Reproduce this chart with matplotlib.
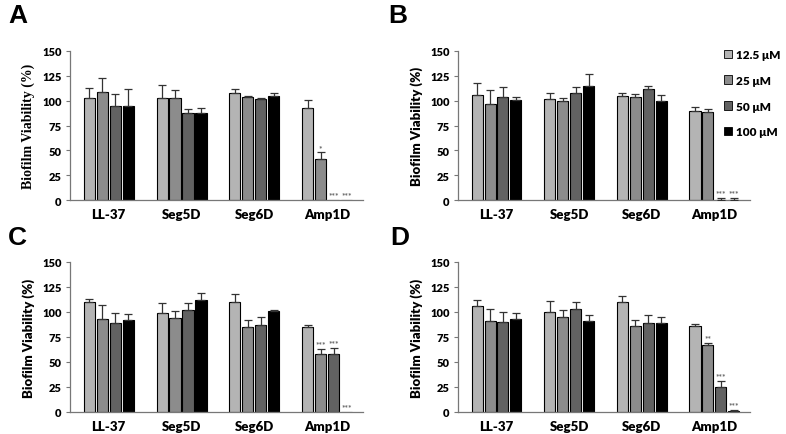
import numpy as np
import matplotlib
matplotlib.use("Agg")
import matplotlib.pyplot as plt
from matplotlib.patches import Patch

plt.rcParams['font.family'] = ['Lato', 'DejaVu Sans']

groups = ['LL-37', 'Seg5D', 'Seg6D', 'Amp1D']
doses = ['12.5 μM', '25 μM', '50 μM', '100 μM']
colors = ['#b4b4b4', '#8c8c8c', '#626262', '#000000']

# mean viability per panel, rows = dose, cols = peptide
means_A = [[103, 103, 107.5, 93],
           [109, 103, 103.5, 41.5],
           [94.5, 88, 102, 0],
           [95, 88, 104.5, 0]]
errs_A = [[10, 12.5, 4, 8],
          [14, 7.5, 1.7, 6.5],
          [12, 4, 1, 0],
          [16.5, 4.5, 3, 0]]
stars_A = [['', '', '', ''],
           ['', '', '', '*'],
           ['', '', '', '***'],
           ['', '', '', '***']]

means_B = [[106, 102, 105, 89.5],
           [96.5, 99.5, 103.5, 88.5],
           [103.5, 107.5, 112, 0],
           [100.5, 115, 99.5, 0]]
errs_B = [[11.5, 5.5, 3, 4],
          [14, 3.5, 3.5, 3.5],
          [10, 6, 3, 2.5],
          [3, 12, 6, 2.5]]
stars_B = [['', '', '', ''],
           ['', '', '', ''],
           ['', '', '', '***'],
           ['', '', '', '***']]

means_C = [[110, 99, 110.5, 85],
           [93, 94, 85, 58],
           [89, 102.5, 87.5, 58.5],
           [92, 112, 101.5, 0]]
errs_C = [[3.5, 10.5, 8, 1.7],
          [14.5, 7, 7, 5],
          [10, 7, 7.5, 6],
          [6.5, 7, 0.5, 0]]
stars_C = [['', '', '', ''],
           ['', '', '', '***'],
           ['', '', '', '***'],
           ['', '', '', '***']]

means_D = [[106, 100, 110, 86],
           [91, 95, 86, 67],
           [90, 103.5, 89, 25],
           [93.5, 91, 89.5, 1]]
errs_D = [[6.5, 11, 6.5, 2.5],
          [12.5, 7.5, 6.5, 2],
          [10.5, 6.5, 8, 6],
          [6, 6, 5.5, 1]]
stars_D = [['', '', '', ''],
           ['', '', '', '**'],
           ['', '', '', '***'],
           ['', '', '', '***']]

W, H = 786, 435
fig = plt.figure(figsize=(W / 100, H / 100), dpi=100)


def px_axes(x0, y_top, x1, y_bot):
    return fig.add_axes([x0 / W, 1 - y_bot / H, (x1 - x0) / W, (y_bot - y_top) / H])


def panel(ax, means, errs, stars, ylab_serif=False):
    x = np.arange(len(groups))
    pitch = 0.178
    width = 0.152
    for i in range(len(doses)):
        xs = x + (i - 1.5) * pitch
        ax.bar(xs, means[i], width, color=colors[i], edgecolor='black', linewidth=0.8, zorder=2)
        for j in range(len(groups)):
            m, e = means[i][j], errs[i][j]
            if e > 0:
                ax.errorbar(xs[j], m, yerr=[[0], [e]], fmt='none', ecolor='#333333',
                            elinewidth=0.9, capsize=3, capthick=0.9, zorder=3)
            if stars[i][j]:
                ax.text(xs[j], m + e + 1.5, stars[i][j], ha='center', va='bottom',
                        fontsize=6, color='#666666', fontweight='bold')
    ax.set_xlim(-0.53, 3.49)
    ax.set_ylim(0, 150)
    ax.set_yticks(range(0, 151, 25))
    ax.set_xticks(x)
    ax.set_xticklabels(groups, fontsize=9.5, fontweight='heavy')
    ax.tick_params(axis='x', length=0, pad=6)
    ax.tick_params(axis='y', length=3, width=0.8, color='#777777', labelsize=8, pad=3)
    for lab in ax.get_yticklabels():
        lab.set_fontweight('heavy')
    for s in ['top', 'right']:
        ax.spines[s].set_visible(False)
    for s in ['left', 'bottom']:
        ax.spines[s].set_color('#777777')
        ax.spines[s].set_linewidth(0.9)
    if ylab_serif:
        ax.set_ylabel('Biofilm Viability (%)', fontsize=10, fontweight='bold',
                      family=['Liberation Serif'], labelpad=5)
    else:
        ax.set_ylabel('Biofilm Viability (%)', fontsize=9.5, fontweight='heavy', labelpad=5)


axA = px_axes(70, 52, 363, 201)
axB = px_axes(458, 52, 750, 201)
axC = px_axes(70, 263, 363, 413)
axD = px_axes(458, 263, 750, 413)

panel(axA, means_A, errs_A, stars_A, ylab_serif=True)
panel(axB, means_B, errs_B, stars_B)
panel(axC, means_C, errs_C, stars_C)
panel(axD, means_D, errs_D, stars_D)

for lab, (px, py) in zip('ABCD', [(8, 4), (388, 4), (8, 226), (390, 226)]):
    fig.text(px / W, 1 - py / H, lab, fontsize=19, fontweight='bold',
             family=['Liberation Sans'], ha='left', va='top')

handles = [Patch(facecolor=c, edgecolor='black', linewidth=0.6) for c in colors]
fig.legend(handles, doses, loc='upper left', bbox_to_anchor=(724 / W, 1 - 50 / H),
           frameon=False, borderpad=0, borderaxespad=0,
           prop={'weight': 'heavy', 'size': 8.5},
           handlelength=0.7, handleheight=0.7, handletextpad=0.3, labelspacing=1.25)

fig.savefig('out.png', dpi=100)
